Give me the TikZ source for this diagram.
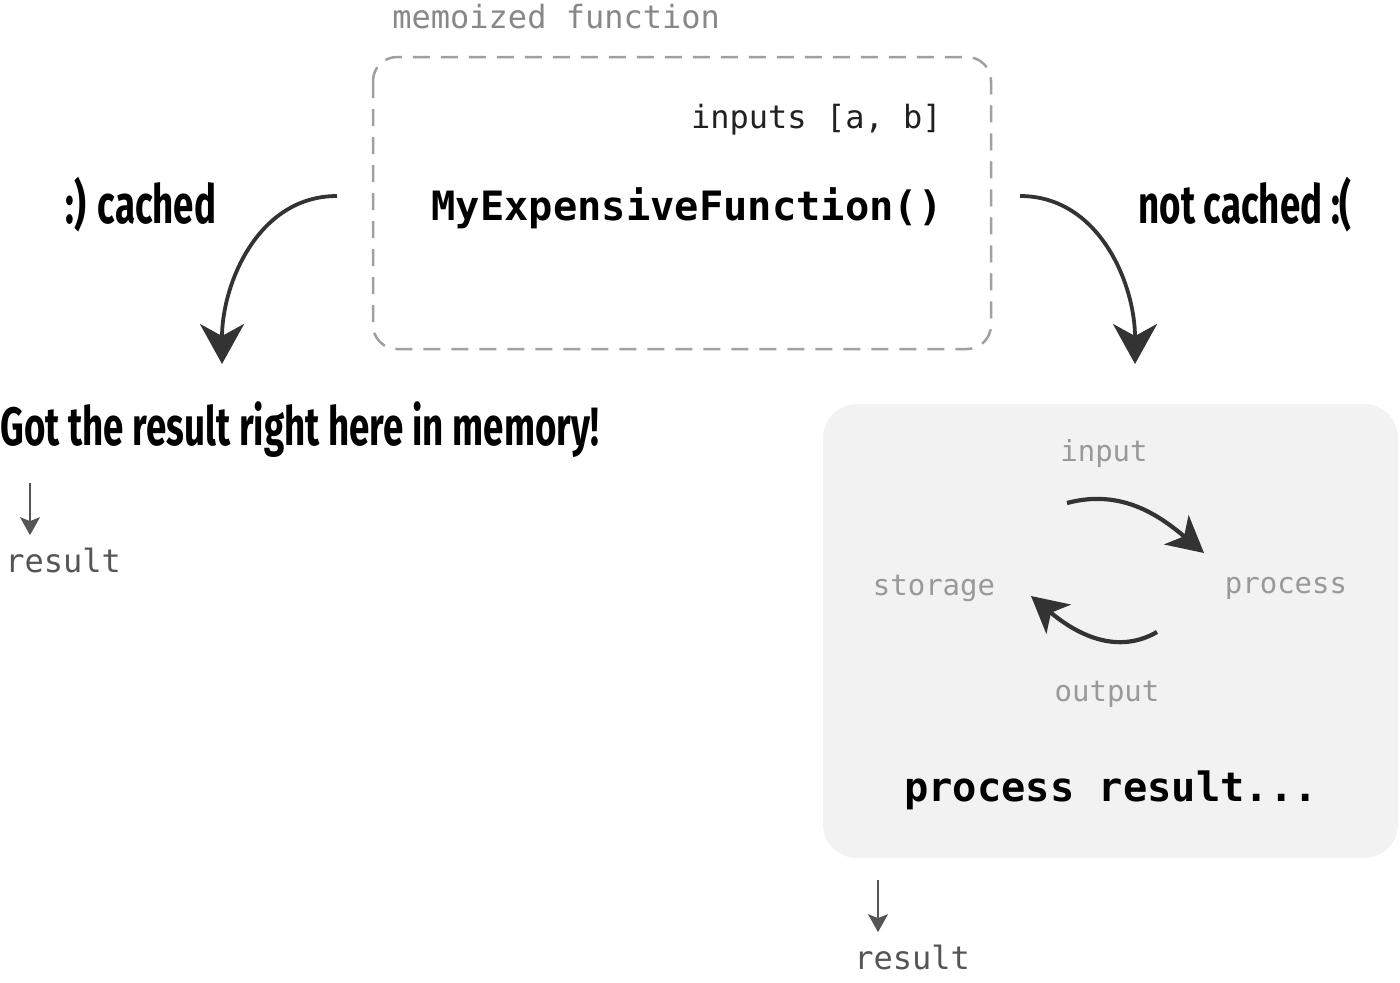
\documentclass[tikz,border=0pt]{standalone}
\usepackage{xcolor}
\usepackage{fontspec}
\usetikzlibrary{arrows.meta}
\setmonofont{DejaVu Sans Mono}
\newfontfamily\handfont[FakeStretch=0.68]{Fira Sans}
\definecolor{panelgray}{HTML}{F2F2F2}
\definecolor{dashgray}{HTML}{A0A0A0}
\definecolor{labelgray}{HTML}{888888}
\definecolor{cyclegray}{HTML}{999999}
\definecolor{resultgray}{HTML}{555555}
\definecolor{arrowgray}{HTML}{333333}

\begin{document}
\begin{tikzpicture}[x=0.5pt,y=-0.5pt]
\tikzstyle{every node}+=[inner sep=0pt]
\tikzstyle{hand}=[font=\handfont\bfseries\fontsize{27}{30}\selectfont]
\tikzstyle{code}=[font=\ttfamily\fontsize{16}{19}\selectfont]
\tikzstyle{bigcode}=[font=\ttfamily\bfseries\fontsize{20.2}{24}\selectfont]
\tikzstyle{cyclelabel}=[font=\ttfamily\fontsize{14.5}{17}\selectfont, text=cyclegray]
\tikzstyle{bigarrow}=[draw=arrowgray, line width=1.9pt, -{Stealth[length=20pt,width=22pt,inset=6pt]}]
\tikzstyle{cyclearrow}=[draw=arrowgray, line width=2.1pt, -{Stealth[length=18pt,width=19pt,inset=5pt]}]
\tikzstyle{smallarrow}=[draw=resultgray, line width=0.8pt, shorten >=6pt, -{Stealth[length=9pt,width=10pt,inset=2pt]}]
\useasboundingbox (0,0) rectangle (1400,982);
% memoized function box
\draw [dashgray, line width=1.25pt, dash pattern=on 8.5pt off 5.5pt, rounded corners=12pt] (373,57) rectangle (991,349);
\node [code, text=labelgray, anchor=west] (memo) at (392,17) {memoized function};
\node [code, text=black!87, anchor=east] (inputs) at (942,120) {inputs [a, b]};
\node [bigcode] (func) at (687,208) {MyExpensiveFunction()};
% cached / not cached
\node [hand, anchor=west] (cached) at (65,205) {:) cached};
\node [hand, anchor=west] (notcached) at (1138,205) {not cached :(};
\coordinate (lstart) at (337,196);
\coordinate (lend) at (222,364);
\coordinate (rstart) at (1020,196);
\coordinate (rend) at (1135,364);
\draw [bigarrow] (lstart) to[out=180,in=90] (lend);
\draw [bigarrow] (rstart) to[out=0,in=90] (rend);
% cached branch
\node [hand, anchor=west] (memory) at (0,430) {Got the result right here in memory!};
\coordinate (lres) at (30,483);
\node [code, text=resultgray, anchor=west] (result1) at (5,560) {result};
\draw [smallarrow] (lres) -- (result1.north -| lres);
% not cached branch
\fill [panelgray, rounded corners=17pt] (823,404) rectangle (1398,858);
\node [cyclelabel] (input) at (1104,453) {input};
\node [cyclelabel] (process) at (1286,588) {process};
\node [cyclelabel] (storage) at (934,588) {storage};
\node [cyclelabel] (output) at (1107,694) {output};
\coordinate (tstart) at (1067,503);
\coordinate (tend) at (1204,553);
\coordinate (bstart) at (1157,632);
\coordinate (bend) at (1031,596);
\draw [cyclearrow] (tstart) to[out=15,in=140] (tend);
\draw [cyclearrow] (bstart) to[out=210,in=-40] (bend);
\node [bigcode] (presult) at (1111,790) {process result...};
\coordinate (rres) at (878,880);
\node [code, text=resultgray, anchor=west] (result2) at (854,957) {result};
\draw [smallarrow] (rres) -- (result2.north -| rres);
\end{tikzpicture}
\end{document}
